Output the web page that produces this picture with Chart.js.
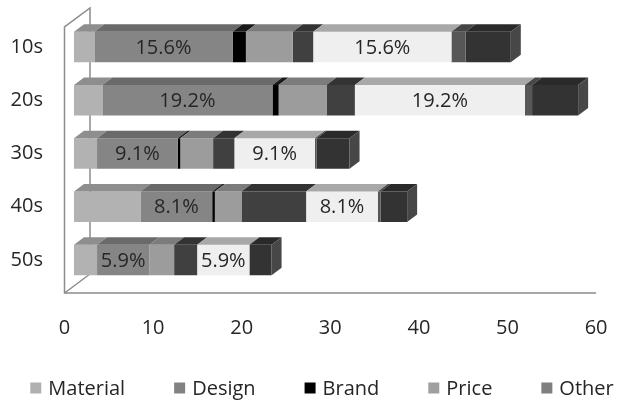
<!DOCTYPE html>
<html>
<head>
<meta charset="utf-8">
<title>Reasons by age group</title>
<script src="https://cdn.jsdelivr.net/npm/chart.js@4.4.0/dist/chart.umd.min.js"></script>
<style>
  html, body { margin: 0; padding: 0; background: #fff; }
</style>
</head>
<body>
<canvas id="reasons-chart" width="628" height="401"></canvas>
<script>
// values, one array per series
const ageGroups = ['10s', '20s', '30s', '40s', '50s'];
const seriesNames = ['Material', 'Design', 'Brand', 'Price', 'Other', 'Design (2)', 'Brand (2)', 'Price (2)'];
const material = [2.3, 3.2, 2.6, 7.5, 2.6];
const design = [15.6, 19.2, 9.1, 8.1, 5.9];
const brand = [1.5, 0.7, 0.3, 0.3, 0];
const price = [5.3, 5.4, 3.7, 3.0, 2.8];
const other = [2.3, 3.2, 2.4, 7.3, 2.6];
const design2 = [15.6, 19.2, 9.1, 8.1, 5.9];
const brand2 = [1.6, 0.8, 0.2, 0.3, 0];
const price2 = [5.1, 5.2, 3.7, 3.0, 2.5];
const xTicks = [0, 10, 20, 30, 40, 50, 60];

const frontColors = ['#b2b2b2', '#858585', '#000000', '#9c9c9c', '#404040', '#efefef', '#575757', '#333333'];
const topColors = ['#8e8e8e', '#6a6a6a', '#1a1a1a', '#7c7c7c', '#333333', '#a8a8a8', '#464646', '#2a2a2a'];
const legendSwatch = ['#b0b0b0', '#828282', '#000000', '#a0a0a0', '#7f7f7f'];
const labelledSeries = [1, 5];   // the two series that carry a % label

const FONT = "'Open Sans', sans-serif";
const TEXT = '#262626';
const depth = { dx: 10, dy: 7.5 };

Chart.defaults.font.family = FONT;
Chart.defaults.font.size = 20;
Chart.defaults.color = TEXT;

// walls/floor behind the bars, then the top and side faces and the % labels
const boxPlugin = {
    id: 'box3d',
    beforeDatasetsDraw(chart) {
        const { ctx, chartArea: a } = chart;
        const fx = a.left - 9.5, fTop = a.top + 6.5, fBottom = a.bottom + 6.5;
        const bx = a.left + 16, bTop = a.top - 12.5, bBottom = a.bottom - 12.5;
        ctx.save();
        ctx.strokeStyle = '#8c8c8c';
        ctx.lineWidth = 1.5;
        ctx.beginPath();
        ctx.moveTo(bx, bBottom);
        ctx.lineTo(bx, bTop);
        ctx.lineTo(fx, fTop);
        ctx.lineTo(fx, fBottom);
        ctx.lineTo(a.right - 9.5, fBottom);
        ctx.moveTo(fx, fBottom);
        ctx.lineTo(bx, bBottom);
        ctx.stroke();
        ctx.restore();
    },
    afterDatasetsDraw(chart) {
        const ctx = chart.ctx;
        const { dx, dy } = depth;
        const last = [];
        ctx.save();
        chart.data.datasets.forEach((ds, d) => {
            chart.getDatasetMeta(d).data.forEach((el, i) => {
                const p = el.getProps(['x', 'y', 'base', 'height'], true);
                const left = Math.min(p.x, p.base), right = Math.max(p.x, p.base);
                if (right - left < 0.3) return;
                const top = p.y - p.height / 2;
                ctx.fillStyle = topColors[d];
                ctx.beginPath();
                ctx.moveTo(left, top);
                ctx.lineTo(right, top);
                ctx.lineTo(right + dx, top - dy);
                ctx.lineTo(left + dx, top - dy);
                ctx.closePath();
                ctx.fill();
                if (!last[i] || right >= last[i].right) last[i] = { right, top, bottom: top + p.height };
            });
        });
        last.forEach(b => {
            ctx.fillStyle = '#474747';
            ctx.beginPath();
            ctx.moveTo(b.right, b.top);
            ctx.lineTo(b.right + dx, b.top - dy);
            ctx.lineTo(b.right + dx, b.bottom - dy);
            ctx.lineTo(b.right, b.bottom);
            ctx.closePath();
            ctx.fill();
        });
        ctx.font = '20px ' + FONT;
        ctx.fillStyle = TEXT;
        ctx.textAlign = 'center';
        ctx.textBaseline = 'middle';
        labelledSeries.forEach(d => {
            chart.getDatasetMeta(d).data.forEach((el, i) => {
                const p = el.getProps(['x', 'y', 'base'], true);
                const v = chart.data.datasets[d].data[i];
                ctx.fillText(v.toFixed(1) + '%', (p.x + p.base) / 2, p.y + 1);
            });
        });
        ctx.restore();
    }
};

// legend row drawn by hand so the wide gaps don't wrap
const legendPlugin = {
    id: 'wideLegend',
    afterDraw(chart) {
        const ctx = chart.ctx;
        const box = 11, gap = 7, spacing = 49;
        ctx.save();
        ctx.font = '20px ' + FONT;
        const names = seriesNames.slice(0, legendSwatch.length);
        const widths = names.map(n => ctx.measureText(n).width);
        const total = widths.reduce((s, w) => s + box + gap + w, 0) + spacing * (names.length - 1);
        let x = (chart.width - total) / 2 + 8;
        const y = chart.height - 13;
        ctx.textBaseline = 'middle';
        ctx.textAlign = 'left';
        names.forEach((n, i) => {
            ctx.fillStyle = legendSwatch[i];
            ctx.fillRect(x, y - box / 2, box, box);
            ctx.fillStyle = TEXT;
            ctx.fillText(n, x + box + gap, y + 1);
            x += box + gap + widths[i] + spacing;
        });
        ctx.restore();
    }
};

const seriesData = [material, design, brand, price, other, design2, brand2, price2];

new Chart(document.querySelector('#reasons-chart').getContext('2d'), {
    type: 'bar',
    data: {
        labels: ageGroups,
        datasets: seriesData.map((values, d) => ({
            label: seriesNames[d],
            data: values,
            backgroundColor: frontColors[d],
            borderWidth: 0,
            barPercentage: 0.573,
            categoryPercentage: 1.0
        }))
    },
    options: {
        indexAxis: 'y',
        responsive: false,
        animation: false,
        layout: { padding: { left: 10, right: 22.4, top: 20.5, bottom: 61 } },
        plugins: {
            legend: { display: false },
            tooltip: { enabled: false }
        },
        scales: {
            x: {
                stacked: true,
                min: xTicks[0],
                max: xTicks[xTicks.length - 1],
                grid: { display: false, drawTicks: false },
                border: { display: false },
                ticks: { stepSize: 10, padding: 29.5, labelOffset: -9.5 },
                afterFit: scale => {
                    scale.height = 53.5;
                    scale.paddingLeft = 0;
                    scale.paddingRight = 0;
                }
            },
            y: {
                stacked: true,
                grid: { display: false, drawTicks: false },
                border: { display: false },
                ticks: { padding: 31 },
                afterFit: scale => {
                    scale.width = 64;
                    scale.paddingTop = 0;
                    scale.paddingBottom = 0;
                }
            }
        }
    },
    plugins: [boxPlugin, legendPlugin]
});
</script>
</body>
</html>
